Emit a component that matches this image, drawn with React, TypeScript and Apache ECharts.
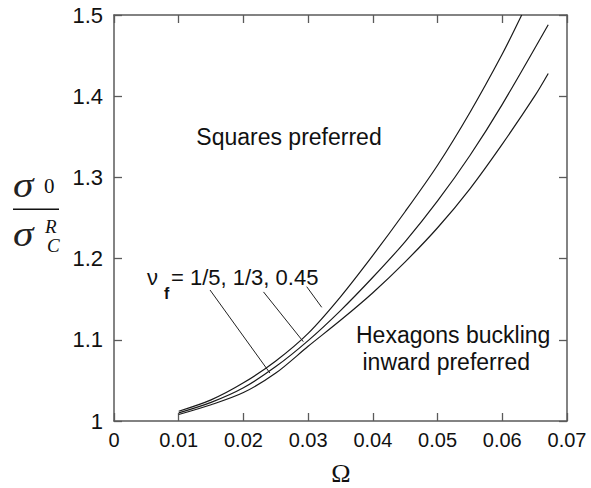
import React, { useEffect, useRef } from "react";
import * as echarts from "echarts";

const xTickLabels = ["0", "0.01", "0.02", "0.03", "0.04", "0.05", "0.06", "0.07"];
const yTickLabels = ["1", "1.1", "1.2", "1.3", "1.4", "1.5"];

const omegaA = [0.01, 0.015, 0.02, 0.025, 0.03, 0.035, 0.04, 0.045, 0.05, 0.055, 0.06, 0.063];
const ratioA = [1.012, 1.026, 1.047, 1.074, 1.108, 1.153, 1.204, 1.258, 1.315, 1.38, 1.452, 1.5];

const omegaB = [0.01, 0.015, 0.02, 0.025, 0.03, 0.035, 0.04, 0.045, 0.05, 0.055, 0.06, 0.0671];
const ratioB = [1.01, 1.023, 1.041, 1.067, 1.099, 1.136, 1.177, 1.221, 1.271, 1.327, 1.39, 1.488];

const omegaC = [0.01, 0.015, 0.02, 0.025, 0.03, 0.035, 0.04, 0.045, 0.05, 0.055, 0.06, 0.065, 0.0671];
const ratioC = [1.008, 1.02, 1.035, 1.059, 1.092, 1.124, 1.158, 1.196, 1.238, 1.286, 1.341, 1.4, 1.428];

const leader1 = [[0.01484, 1.1613], [0.0241, 1.059]];
const leader2 = [[0.0231, 1.159], [0.02925, 1.0977]];
const leader3 = [[0.02978, 1.1654], [0.0321, 1.14]];

const zip = (xs: number[], ys: number[]) => xs.map((x, i) => [x, ys[i]]);

export default function App() {
  const ref = useRef<HTMLDivElement>(null);
  useEffect(() => {
    if (!ref.current) return;
    const chart = echarts.init(ref.current, null, { renderer: "svg" });
    const axisColor = "#5a5a5a";
    const sans = "Liberation Sans, Arial, sans-serif";
    const serif = "Liberation Serif, Times New Roman, serif";
    const baseX = {
      type: "value",
      min: 0,
      max: 0.07,
      interval: 0.01,
      splitLine: { show: false },
      axisLine: { show: true, onZero: false, lineStyle: { color: axisColor, width: 1.5 } },
      axisTick: { show: true, inside: true, length: 8, lineStyle: { color: axisColor, width: 1.3 } },
    };
    const baseY = {
      type: "value",
      min: 1,
      max: 1.5,
      interval: 0.1,
      splitLine: { show: false },
      axisLine: { show: true, onZero: false, lineStyle: { color: axisColor, width: 1.5 } },
      axisTick: { show: true, inside: true, length: 8, lineStyle: { color: axisColor, width: 1.3 } },
    };
    const curve = (data: number[][]) => ({
      type: "line",
      data,
      smooth: 0.3,
      showSymbol: false,
      symbol: "none",
      lineStyle: { color: "#1a1a1a", width: 1.2 },
      xAxisIndex: 0,
      yAxisIndex: 0,
      silent: true,
    });
    const leader = (data: number[][]) => ({
      type: "line",
      data,
      showSymbol: false,
      symbol: "none",
      lineStyle: { color: "#222", width: 1 },
      xAxisIndex: 0,
      yAxisIndex: 0,
      silent: true,
    });
    const txt = (x: number, y: number, text: string, extra: any = {}, el: any = {}) => ({
      type: "text",
      x,
      y,
      ...el,
      style: { text, fontSize: 23, fontFamily: sans, fill: "#111", align: "left", verticalAlign: "middle", ...extra },
    });
    chart.setOption({
      animation: false,
      backgroundColor: "#ffffff",
      grid: { left: 114, right: 24, top: 15, bottom: 67, containLabel: false },
      xAxis: [
        {
          ...baseX,
          position: "bottom",
          axisLabel: {
            margin: 9,
            fontSize: 20,
            fontFamily: sans,
            color: "#111",
            formatter: (v: number) => xTickLabels[Math.round(v / 0.01)],
          },
        },
        { ...baseX, position: "top", axisLabel: { show: false } },
      ],
      yAxis: [
        {
          ...baseY,
          position: "left",
          axisLabel: {
            margin: 11,
            fontSize: 22,
            fontFamily: sans,
            color: "#111",
            formatter: (v: number) => yTickLabels[Math.round((v - 1) / 0.1)],
          },
        },
        { ...baseY, position: "right", axisLabel: { show: false } },
      ],
      series: [
        curve(zip(omegaA, ratioA)),
        curve(zip(omegaB, ratioB)),
        curve(zip(omegaC, ratioC)),
        leader(leader1),
        leader(leader2),
        leader(leader3),
      ],
      graphic: [
        txt(289, 137, "Squares preferred", { align: "center" }),
        txt(356, 335, "Hexagons buckling"),
        txt(362.5, 362, "inward preferred"),
        txt(147, 277, "ν", { fontSize: 22 }),
        txt(164, 293, "f", { fontSize: 16, fontWeight: "bold" }),
        txt(171, 277, "= 1/5, 1/3, 0.45", { fontSize: 22 }),
        txt(341, 473, "Ω", { fontSize: 26, fontFamily: serif, align: "center" }),
        txt(13, 184, "σ", { fontSize: 36, fontStyle: "italic", fontFamily: serif, fill: "#222" }, { scaleX: 1.15 }),
        txt(44, 186, "0", { fontSize: 21, fontFamily: serif }),
        { type: "rect", shape: { x: 13, y: 208.5, width: 46, height: 1.5 }, style: { fill: "#111" } },
        txt(13, 233.5, "σ", { fontSize: 36, fontStyle: "italic", fontFamily: serif, fill: "#222" }, { scaleX: 1.15 }),
        txt(45, 226, "R", { fontSize: 19, fontStyle: "italic", fontFamily: serif }),
        txt(47, 245.5, "C", { fontSize: 19, fontStyle: "italic", fontFamily: serif }),
      ],
    });
    return () => chart.dispose();
  }, []);
  return (
    <div
      ref={ref}
      style={{ position: "fixed", left: 0, top: 0, width: 591, height: 488, background: "#fff" }}
    />
  );
}
